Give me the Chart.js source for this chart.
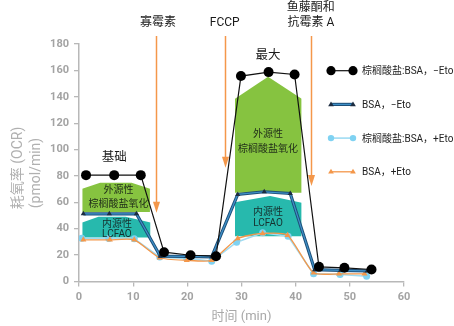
<!DOCTYPE html>
<html>
<head>
<meta charset="utf-8">
<script src="https://cdn.jsdelivr.net/npm/chart.js@4.4.1/dist/chart.umd.min.js"></script>
<style>
  html, body { margin: 0; padding: 0; background: #fff; }
  #wrap { width: 454px; height: 326px; }
</style>
</head>
<body>
<div id="wrap"><canvas id="c" width="454" height="326"></canvas></div>
<script>
// Axis ticks
const xTicks = [0, 10, 20, 30, 40, 50, 60];
const yTicks = [0, 20, 40, 60, 80, 100, 120, 140, 160, 180];

// Measurement times (min) and OCR (pmol/min) for each condition
const palmNoEtoTime = [1.3, 6.5, 11.4, 15.7, 20.6, 25.3, 29.9, 35.0, 39.8, 44.3, 49.0, 54.0];
const palmNoEtoOcr  = [80.6, 80.6, 80.6, 22.2, 19.9, 19.2, 155.7, 158.7, 156.9, 11.1, 10.4, 9.1];
const bsaNoEtoTime  = [0.8, 5.6, 10.6, 15.0, 19.9, 24.5, 29.3, 34.2, 39.0, 43.5, 48.3, 53.2];
const bsaNoEtoOcr   = [51.3, 51.3, 51.3, 19.2, 19.0, 18.7, 66.0, 68.0, 66.7, 9.0, 8.5, 8.0];
const palmEtoTime   = [0.5, 5.5, 10.2, 14.9, 19.9, 24.5, 29.1, 33.9, 38.6, 43.3, 48.2, 53.1];
const palmEtoOcr    = [32.8, 32.6, 32.4, 18.5, 17.5, 15.4, 29.8, 36.9, 34.3, 5.8, 5.3, 4.0];
const bsaEtoTime    = [0.8, 5.7, 10.2, 14.9, 19.9, 24.5, 29.3, 33.9, 38.5, 43.3, 48.0, 52.7];
const bsaEtoOcr     = [31.6, 31.6, 31.6, 18.0, 16.1, 16.1, 32.6, 36.4, 35.1, 6.6, 5.8, 5.8];

const seriesLabels = ['棕榈酸盐:BSA，−Eto', 'BSA，−Eto', '棕榈酸盐:BSA，+Eto', 'BSA，+Eto'];

// Shaded regions (roof outline + floor) for exogenous / endogenous oxidation
const exoBasalX = [0.6, 3.9, 9.7, 13.1];
const exoBasalY = [70.3, 74.8, 74.8, 70.3];
const exoBasalFloor = 52.7;
const endoBasalX = [0.6, 3.6, 8.6, 13.2];
const endoBasalY = [44.7, 49.1, 49.1, 44.7];
const endoBasalFloor = 33.4;
const exoMaxX = [28.8, 34.9, 41.1];
const exoMaxY = [138.5, 155.2, 138.5];
const exoMaxFloor = 67.2;
const endoMaxX = [28.8, 35.3, 41.1];
const endoMaxY = [60.1, 64.8, 59.7];
const endoMaxFloor = 34.3;

// Injection arrows: time, arrow tip value
const injectionTimes = [14.3, 26.9, 42.8];
const injectionTips  = [52.1, 86.2, 72.3];
const injectionLabels = [['寡霉素'], ['FCCP'], ['鱼藤酮和', '抗霉素 A']];

const pts = (xs, ys) => xs.map((x, i) => ({ x: x, y: ys[i] }));

const FONT = 'Roboto, "Noto Sans CJK SC", sans-serif';
const GREEN = '#86c340';
const TEAL = '#27b9ad';
const ORANGE = '#f4974a';

function region(xs, ys, floor, color) {
  return {
    data: pts(xs, ys), borderWidth: 0, pointRadius: 0, tension: 0,
    backgroundColor: color, fill: { value: floor }, order: 20, isRegion: true
  };
}

const datasets = [
  { label: seriesLabels[0], data: pts(palmNoEtoTime, palmNoEtoOcr),
    borderColor: '#111', borderWidth: 1.2, pointRadius: 5, pointStyle: 'circle',
    pointBackgroundColor: '#000', pointBorderColor: '#000', pointBorderWidth: 0,
    fill: false, order: 0, legendRow: 0 },
  { label: seriesLabels[1], data: pts(bsaNoEtoTime, bsaNoEtoOcr),
    borderColor: '#3f90c8', borderWidth: 1.2, pointRadius: 3, pointStyle: 'triangle',
    pointBackgroundColor: '#1c2c40', pointBorderColor: '#1c2c40', pointBorderWidth: 0,
    fill: false, order: 1, legendRow: 1, outline: '#1d4f78' },
  { label: 'outline', data: pts(bsaNoEtoTime, bsaNoEtoOcr),
    borderColor: '#1d4f78', borderWidth: 3.2, pointRadius: 0, fill: false, order: 2 },
  { label: seriesLabels[3], data: pts(bsaEtoTime, bsaEtoOcr),
    borderColor: ORANGE, borderWidth: 1.3, pointRadius: 3.5, pointStyle: 'triangle',
    pointBackgroundColor: ORANGE, pointBorderColor: ORANGE, pointBorderWidth: 0,
    tension: 0.2, fill: false, order: 3, legendRow: 3 },
  { label: seriesLabels[2], data: pts(palmEtoTime, palmEtoOcr),
    borderColor: '#9fdcf3', borderWidth: 1.6, pointRadius: 3.5, pointStyle: 'circle',
    pointBackgroundColor: '#7fd2f2', pointBorderColor: '#7fd2f2', pointBorderWidth: 0,
    fill: false, order: 4, legendRow: 2 },
  region(exoBasalX, exoBasalY, exoBasalFloor, GREEN),
  region(endoBasalX, endoBasalY, endoBasalFloor, TEAL),
  region(exoMaxX, exoMaxY, exoMaxFloor, GREEN),
  region(endoMaxX, endoMaxY, endoMaxFloor, TEAL)
];

// Text placed in data coordinates
const annotations = [
  { t: ['基础'], x: 6.5, y: 94.5, size: 12.5, color: '#1a1a1a' },
  { t: ['最大'], x: 34.9, y: 172.1, size: 12.5, color: '#1a1a1a' },
  { t: ['外源性', '棕榈酸盐氧化'], x: 7.3, y: 69.8, size: 10, color: '#22301a', gap: 13.3 },
  { t: ['内源性', 'LCFAO'], x: 7.0, y: 44.5, size: 10, color: '#16302e', gap: 10.7 },
  { t: ['外源性', '棕榈酸盐氧化'], x: 34.9, y: 112.2, size: 10, color: '#22301a', gap: 14.3 },
  { t: ['内源性', 'LCFAO'], x: 34.9, y: 53.3, size: 10, color: '#16302e', gap: 11 }
];

// CJK glyphs sit a little high on a 'middle' baseline
const TEXT_NUDGE = 1.5;

function drawMarker(ctx, style, r, x, y, fill) {
  ctx.save();
  ctx.fillStyle = fill;
  ctx.beginPath();
  if (style === 'triangle') {
    ctx.moveTo(x, y - r);
    ctx.lineTo(x + r * 0.95, y + r * 0.6);
    ctx.lineTo(x - r * 0.95, y + r * 0.6);
    ctx.closePath();
  } else {
    ctx.arc(x, y, r, 0, Math.PI * 2);
  }
  ctx.fill();
  ctx.restore();
}

const decorPlugin = {
  id: 'decor',
  beforeDatasetsDraw(chart) {
    const { ctx, scales: { x, y } } = chart;
    ctx.save();
    injectionTimes.forEach((t, i) => {
      const px = Math.round(x.getPixelForValue(t)) + 0.5;
      const top = 36;
      const tip = y.getPixelForValue(injectionTips[i]);
      ctx.strokeStyle = ORANGE;
      ctx.lineWidth = 1.5;
      ctx.beginPath();
      ctx.moveTo(px, top);
      ctx.lineTo(px, tip - 8);
      ctx.stroke();
      ctx.fillStyle = ORANGE;
      ctx.beginPath();
      ctx.moveTo(px - 3.5, tip - 11);
      ctx.lineTo(px + 3.5, tip - 11);
      ctx.lineTo(px, tip);
      ctx.closePath();
      ctx.fill();
    });
    ctx.restore();
  },
  afterDatasetsDraw(chart) {
    const { ctx, chartArea, scales: { x, y } } = chart;
    ctx.save();
    ctx.textAlign = 'center';
    ctx.textBaseline = 'middle';

    // injection labels above the plot
    injectionLabels.forEach((lines, i) => {
      const px = x.getPixelForValue(injectionTimes[i]);
      ctx.font = '12px ' + FONT;
      ctx.fillStyle = '#1a1a1a';
      const n = lines.length;
      lines.forEach((s, k) => {
        ctx.fillText(s, px + (i === 0 ? 1.5 : 0), 23 - (n - 1 - k) * 15.5);
      });
    });

    // region / phase labels
    annotations.forEach(a => {
      ctx.font = a.size + 'px ' + FONT;
      ctx.fillStyle = a.color;
      const px = x.getPixelForValue(a.x);
      const py = y.getPixelForValue(a.y) + TEXT_NUDGE;
      a.t.forEach((s, k) => ctx.fillText(s, px, py + k * (a.gap || 0)));
    });

    // y-axis title (two lines, rotated)
    ctx.font = '14px ' + FONT;
    ctx.fillStyle = '#b0b0b0';
    [['耗氧率 (OCR)', 18.5, 168], ['(pmol/min)', 36.5, 173]].forEach(([s, tx, ty]) => {
      ctx.save();
      ctx.translate(tx, ty);
      ctx.rotate(-Math.PI / 2);
      ctx.fillText(s, 0, 0);
      ctx.restore();
    });

    // legend
    const rows = chart.data.datasets.filter(d => d.legendRow !== undefined)
      .sort((a, b) => a.legendRow - b.legendRow);
    rows.forEach((d, i) => {
      const ly = chartArea.top + 26.7 + i * 33.7;
      const x0 = chartArea.right - 73, x1 = chartArea.right - 51;
      if (d.outline) {
        ctx.strokeStyle = d.outline;
        ctx.lineWidth = 3.2;
        ctx.beginPath(); ctx.moveTo(x0, ly); ctx.lineTo(x1, ly); ctx.stroke();
      }
      ctx.strokeStyle = d.borderColor;
      ctx.lineWidth = d.borderWidth;
      ctx.beginPath(); ctx.moveTo(x0, ly); ctx.lineTo(x1, ly); ctx.stroke();
      const r = d.pointStyle === 'circle' ? (d.pointRadius >= 5 ? 4.6 : 3.2) : 3;
      drawMarker(ctx, d.pointStyle, r, x0, ly, d.pointBackgroundColor);
      drawMarker(ctx, d.pointStyle, r, x1, ly, d.pointBackgroundColor);
      ctx.textAlign = 'left';
      ctx.font = '10px ' + FONT;
      ctx.fillStyle = '#222';
      ctx.fillText(d.label, chartArea.right - 42, ly + 1);
    });
    ctx.restore();
  }
};

const axisGray = '#b8b8b8';
const tickFont = { family: FONT, size: 11, weight: 'bold' };

new Chart(document.getElementById('c'), {
  type: 'line',
  data: { datasets: datasets },
  options: {
    responsive: false,
    animation: false,
    devicePixelRatio: 1,
    layout: { padding: { top: 44, right: 50, left: 0, bottom: 0 } },
    plugins: { legend: { display: false }, tooltip: { enabled: false } },
    scales: {
      x: {
        type: 'linear', min: 0, max: 60,
        afterBuildTicks: s => { s.ticks = xTicks.map(v => ({ value: v })); },
        afterFit: s => { s.height = 44.5; },
        grid: { drawOnChartArea: false, drawTicks: true, tickLength: 5, color: axisGray, lineWidth: 1.3 },
        border: { display: true, color: axisGray, width: 1.5 },
        ticks: { color: '#a3a3a3', font: tickFont, padding: 4, maxRotation: 0 },
        title: { display: true, text: '时间 (min)', color: '#a8a8a8',
                 font: { family: FONT, size: 13 }, padding: { top: 0, bottom: 1 } }
      },
      y: {
        type: 'linear', min: 0, max: 180,
        afterBuildTicks: s => { s.ticks = yTicks.map(v => ({ value: v })); },
        afterFit: s => { s.width = 79; },
        grid: { drawOnChartArea: false, drawTicks: true, tickLength: 5, color: axisGray, lineWidth: 1.3 },
        border: { display: true, color: axisGray, width: 1.5 },
        ticks: { color: '#a3a3a3', font: tickFont, padding: 5 }
      }
    }
  },
  plugins: [decorPlugin]
});
</script>
</body>
</html>
